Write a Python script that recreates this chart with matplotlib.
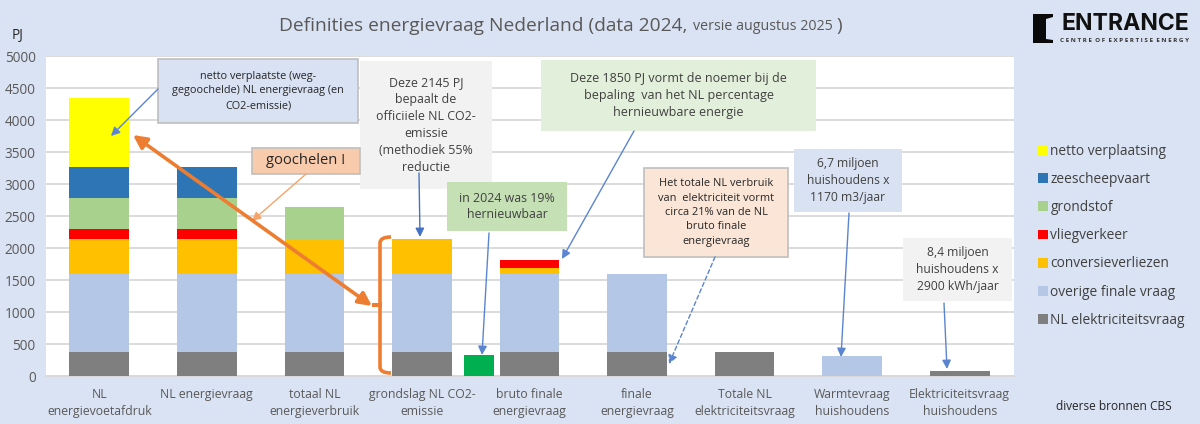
import matplotlib
matplotlib.use('Agg')
import matplotlib.pyplot as plt
import numpy as np
from matplotlib.patches import FancyArrowPatch, PathPatch, Polygon, Rectangle
from matplotlib.path import Path

categories = ['NL\nenergievoetafdruk', 'NL energievraag\n ', 'totaal NL\nenergieverbruik',
              'grondslag NL CO2-\nemissie', 'bruto finale\nenergievraag', 'finale\nenergievraag',
              'Totale NL\nelektriciteitsvraag', 'Warmtevraag\nhuishoudens',
              'Elektriciteitsvraag\nhuishoudens']

elektriciteit = [375, 375, 375, 375, 375, 375, 375, 0, 75]
overige = [1220, 1220, 1220, 1220, 1220, 1220, 0, 310, 0]
conversie = [550, 550, 550, 550, 100, 0, 0, 0, 0]
vliegverkeer = [145, 145, 0, 0, 115, 0, 0, 0, 0]
grondstof = [490, 490, 490, 0, 0, 0, 0, 0, 0]
zeescheepvaart = [480, 480, 0, 0, 0, 0, 0, 0, 0]
netto = [1090, 0, 0, 0, 0, 0, 0, 0, 0]
hernieuwbaar = 325

series_names = ['NL elektriciteitsvraag', 'overige finale vraag', 'conversieverliezen',
                'vliegverkeer', 'grondstof', 'zeescheepvaart', 'netto verplaatsing']
series = [elektriciteit, overige, conversie, vliegverkeer, grondstof, zeescheepvaart, netto]
colors = ['#7F7F7F', '#B4C7E7', '#FFC000', '#FF0000', '#A9D18E', '#2E75B6', '#FFFF00']

BG = '#DAE3F3'
W, H = 1200, 424
FONT = 'Open Sans'
plt.rcParams['font.family'] = [FONT, 'DejaVu Sans']


def fx(x):
    return x / W


def fy(y):
    return 1 - y / H


fig = plt.figure(figsize=(12, 4.24), dpi=100, facecolor=BG)
ax = fig.add_axes([fx(45.5), fy(376), fx(968), 320 / H], facecolor='white')

x = np.arange(len(categories))
bottom = np.zeros(len(categories))
for name, vals, col in zip(series_names, series, colors):
    ax.bar(x, vals, 0.555, bottom=bottom, color=col, label=name, zorder=3)
    bottom += np.array(vals)
ax.bar(3.53, hernieuwbaar, 0.28, color='#00B050', zorder=3)

ax.set_xlim(-0.5, 8.5)
ax.set_ylim(0, 5000)
ax.set_yticks(np.arange(0, 5500, 500))
ax.set_xticks(x)
ax.set_xticklabels(categories, fontsize=8.8, color='#595959', linespacing=1.45)
ax.tick_params(axis='both', length=0, labelcolor='#595959')
ax.tick_params(axis='y', labelsize=9.8, pad=7)
ax.tick_params(axis='x', pad=8.5)
ax.grid(axis='y', color='#D9D9D9', linewidth=1.3, zorder=0)
for s in ['top', 'right', 'left']:
    ax.spines[s].set_visible(False)
ax.spines['bottom'].set_color('#D9D9D9')
ax.spines['bottom'].set_linewidth(1.3)

handles, labels = ax.get_legend_handles_labels()
leg = fig.legend(handles[::-1], labels[::-1], loc='upper left',
                 bbox_to_anchor=(fx(1026), fy(131.5)), frameon=False, fontsize=9.95,
                 labelspacing=0.95, handlelength=0.72, handleheight=0.72,
                 handletextpad=0.15, labelcolor='#404040')

fig.text(fx(279), fy(26), 'Definities energievraag Nederland (data 2024,', fontsize=13.8,
         color='#595959', va='center')
fig.text(fx(693), fy(27), 'versie augustus 2025', fontsize=10.25, color='#595959', va='center')
fig.text(fx(836), fy(26), ')', fontsize=13.8, color='#595959', va='center')
fig.text(fx(18), fy(35), 'PJ', fontsize=9.8, color='#262626', ha='center', va='center')
fig.text(fx(1114), fy(407), 'diverse bronnen CBS', fontsize=8.6, color='#262626',
         ha='center', va='center')

# logo
fig.add_artist(Polygon([(fx(1033), fy(14)), (fx(1053), fy(14)), (fx(1053), fy(17)), (fx(1046), fy(19)),
                        (fx(1046), fy(39)), (fx(1053), fy(40)), (fx(1053), fy(43)), (fx(1033), fy(43))],
                       closed=True, facecolor='#0A0A0A', edgecolor='none', zorder=5))
fig.text(fx(1125), fy(24), 'ENTRANCE', fontsize=16.6, fontweight='bold', family='Inter',
         color='#111111', ha='center', va='center')
fig.text(fx(1125), fy(40), 'C E N T R E  O F  E X P E R T I S E  E N E R G Y', fontsize=4.5,
         fontweight='bold', color='#333333', ha='center', va='center')


def box(x0, y0, x1, y1, txt, fc, ec=None, size=8.4, color='#404040', spacing=1.45):
    fig.add_artist(Rectangle((fx(x0), fy(y1)), (x1 - x0) / W, (y1 - y0) / H, facecolor=fc,
                             edgecolor=ec if ec else 'none', linewidth=1.2, zorder=5))
    fig.text(fx((x0 + x1) / 2), fy((y0 + y1) / 2), txt, fontsize=size, color=color, ha='center',
             va='center', linespacing=spacing, zorder=6)


def arrow(p0, p1, color='#5B85D0', lw=1.0, head=13, style='-|>', ls='-'):
    fig.add_artist(FancyArrowPatch((fx(p0[0]), fy(p0[1])), (fx(p1[0]), fy(p1[1])), arrowstyle=style,
                                   mutation_scale=head, color=color, linewidth=lw, linestyle=ls,
                                   shrinkA=0, shrinkB=0, zorder=7))


box(158, 59, 358, 123, 'netto verplaatste (weg-\ngegoochelde) NL energievraag (en\nCO2-emissie)',
    '#D9E2F3', '#BFBFBF', size=7.8, color='#262626', spacing=1.45)
box(360, 61, 492, 189, 'Deze 2145 PJ\nbepaalt de\nofficiiele NL CO2-\nemissie\n(methodiek 55%\nreductie',
    '#F2F2F2', size=8.9, spacing=1.4)
box(541, 60, 816, 131, 'Deze 1850 PJ vormt de noemer bij de\nbepaling  van het NL percentage\nhernieuwbare energie',
    '#E2EFDA', size=9.0, spacing=1.4)
box(447, 182, 567, 231, 'in 2024 was 19%\nhernieuwbaar', '#C5E0B4', size=8.9, spacing=1.4)
box(644, 168, 788, 257, 'Het totale NL verbruik\nvan  elektriciteit vormt\ncirca 21% van de NL\nbruto finale\nenergievraag',
    '#FBE5D6', '#BFBFBF', size=7.9, color='#262626', spacing=1.42)
box(794, 149, 902, 212, '6,7 miljoen\nhuishoudens x\n1170 m3/jaar', '#D9E2F3', size=8.7, spacing=1.4)
box(903, 238, 1012, 301, '8,4 miljoen\nhuishoudens x\n2900 kWh/jaar', '#F2F2F2', size=8.7, spacing=1.4)
box(252, 148, 360, 174, 'goochelen !', '#F8CBAD', '#BFBFBF', size=10.6, color='#262626')

arrow((158, 89), (111, 136))
arrow((306, 174), (252, 221), color='#F4A46A')
arrow((419, 173), (420, 237), color='#4472C4')
arrow((634, 131), (562, 259))
arrow((489, 233), (482, 355))
arrow((715, 257), (669, 364), ls=(0, (3, 2)))
arrow((849, 213), (841, 357))
arrow((944, 303), (947, 369))
arrow((133, 135), (372, 306), color='#ED7D31', lw=2.6, head=20, style='<|-|>')

# bracket around the column
bx, by0, by1, bm = 380, 237, 373, 305
verts = [(391, by0), (bx, by0), (bx, by0 + 6), (bx, bm), (372, bm), (bx, bm),
         (bx, by1 - 6), (bx, by1), (391, by1)]
codes = [Path.MOVETO, Path.CURVE3, Path.CURVE3, Path.LINETO, Path.LINETO, Path.LINETO,
         Path.LINETO, Path.CURVE3, Path.CURVE3]
fig.add_artist(PathPatch(Path([(fx(a), fy(b)) for a, b in verts], codes), facecolor='none',
                         edgecolor='#ED7D31', linewidth=2.6, zorder=7))

fig.savefig('out.png', dpi=100, facecolor=BG)
